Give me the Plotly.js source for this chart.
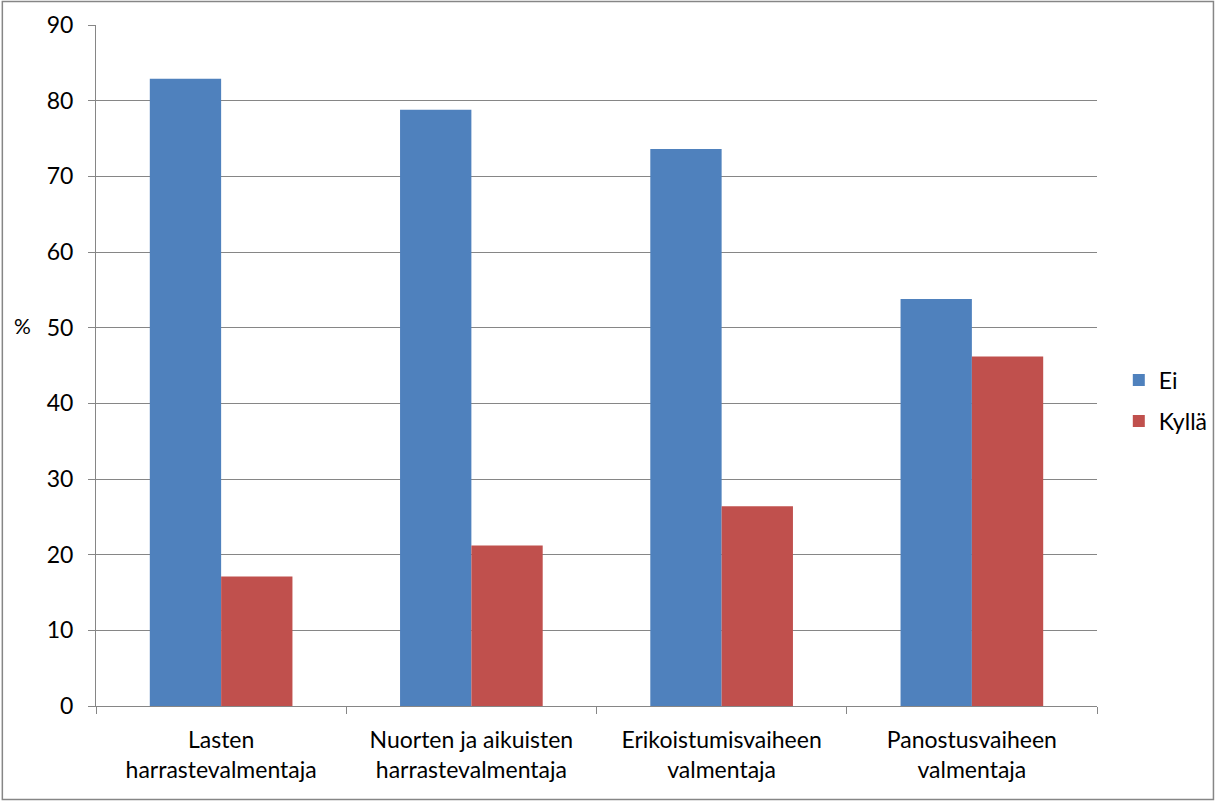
<!DOCTYPE html>
<html>
<head>
<meta charset="utf-8">
<script src="https://cdn.plot.ly/plotly-3.0.1.min.js"></script>
<style>
html,body{margin:0;padding:0;background:#fff;overflow:hidden;}
#chart{width:1225px;height:801px;}
</style>
</head>
<body>
<div id="chart"></div>
<script>
const categories = ["Lasten<br>harrastevalmentaja", "Nuorten ja aikuisten<br>harrastevalmentaja", "Erikoistumisvaiheen<br>valmentaja", "Panostusvaiheen<br>valmentaja"];
const eiValues = [82.9, 78.8, 73.6, 53.8];
const kyllaValues = [17.1, 21.2, 26.4, 46.2];
const seriesNames = ["Ei", "Kyllä"];
const yTicks = [0, 10, 20, 30, 40, 50, 60, 70, 80, 90];

const FONT = "Lato, 'Open Sans', sans-serif";
const L = 96, R = 1106, T = 25, B = 706, W = 1225, H = 801;
const pw = R - L, ph = B - T;

const traces = [
  {type: "bar", name: seriesNames[0], x: categories, y: eiValues, marker: {color: "#4F81BD"}, legend: "legend"},
  {type: "bar", name: seriesNames[1], x: categories, y: kyllaValues, marker: {color: "#C0504D"}, legend: "legend2"}
];

const legendBase = {x: (1128 - L) / pw, xanchor: "left", yanchor: "middle",
                    font: {family: FONT, size: 23, color: "#000"}, bgcolor: "rgba(0,0,0,0)"};

const layout = {
  width: W, height: H,
  margin: {l: L, r: W - R, t: T, b: H - B, pad: 0},
  paper_bgcolor: "#ffffff", plot_bgcolor: "#ffffff",
  font: {family: FONT, size: 23, color: "#000"},
  barmode: "group", bargap: 0.43, bargroupgap: 0,
  showlegend: true,
  legend: Object.assign({}, legendBase, {y: (B - 380) / ph}),
  legend2: Object.assign({}, legendBase, {y: (B - 421) / ph}),
  xaxis: {type: "category", showgrid: false, showline: true, linecolor: "#868686", linewidth: 1,
          ticks: "outside", tickson: "boundaries", ticklen: 7, tickcolor: "#868686",
          tickfont: {family: FONT, size: 23, color: "#000"}, automargin: false, ticklabelstandoff: 13},
  yaxis: {range: [0, 90], tickvals: yTicks, ticktext: yTicks.map(String), showgrid: true, gridcolor: "#868686", gridwidth: 1,
          showline: true, linecolor: "#868686", linewidth: 1, ticks: "outside", ticklen: 7, tickcolor: "#868686",
          zeroline: false, tickfont: {family: FONT, size: 23, color: "#000"}, automargin: false, ticklabelstandoff: 10},
  annotations: [{text: "%", xref: "paper", yref: "paper", x: (22 - L) / pw, y: (B - 325) / ph,
                 xanchor: "center", yanchor: "middle", showarrow: false, font: {family: FONT, size: 21, color: "#000"}}],
  shapes: [{type: "rect", xref: "paper", yref: "paper", x0: (1.5 - L) / pw, x1: (1223.5 - L) / pw,
            y0: (B - 799.5) / ph, y1: (B - 1.5) / ph, line: {color: "#868686", width: 1.5}, fillcolor: "rgba(0,0,0,0)", layer: "above"}]
};

Plotly.newPlot("chart", traces, layout, {displayModeBar: false, staticPlot: true});
</script>
</body>
</html>
